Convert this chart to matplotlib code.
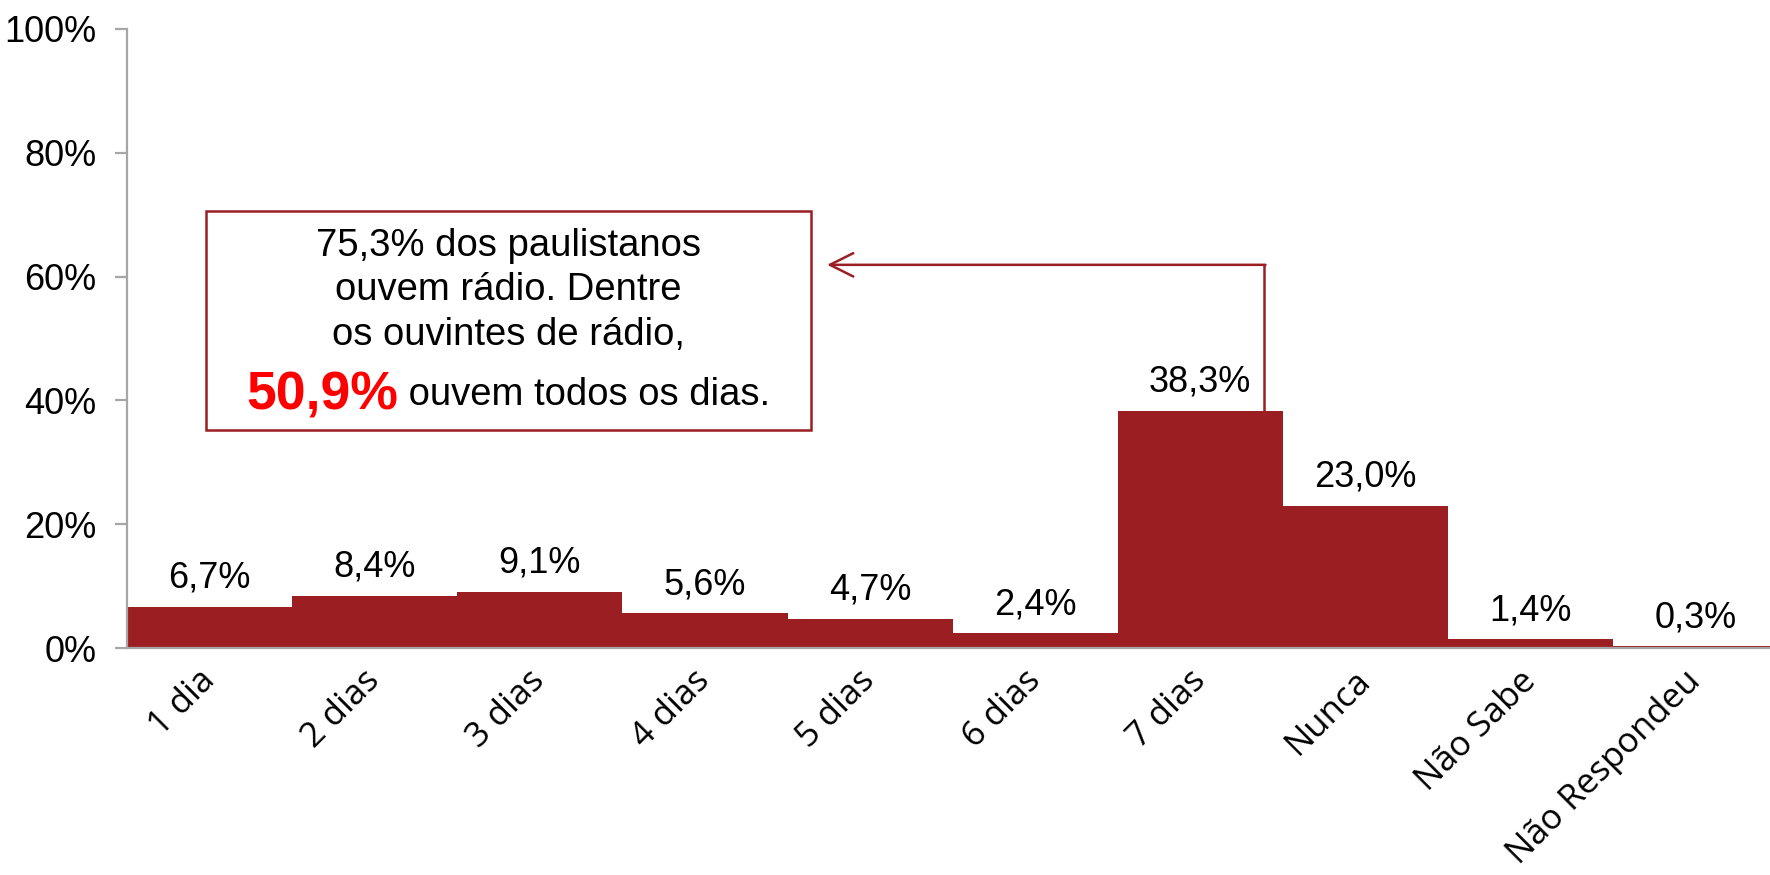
import matplotlib.pyplot as plt
from matplotlib.ticker import FuncFormatter

categorias = ['1 dia', '2 dias', '3 dias', '4 dias', '5 dias', '6 dias',
              '7 dias', 'Nunca', 'Não Sabe', 'Não Respondeu']
valores = [6.7, 8.4, 9.1, 5.6, 4.7, 2.4, 38.3, 23.0, 1.4, 0.3]
rotulos = ['6,7%', '8,4%', '9,1%', '5,6%', '4,7%', '2,4%', '38,3%', '23,0%', '1,4%', '0,3%']
yticks = [0, 20, 40, 60, 80, 100]

vermelho = '#9B1E23'
cinza = '#A6A6A6'
fonte = ['Liberation Sans', 'DejaVu Sans']

fig = plt.figure(figsize=(17.7, 8.75), dpi=100)
ax = fig.add_axes([0.0718, 0.2594, 0.9328, 0.7075])

x = list(range(len(categorias)))
ax.bar(x, valores, width=1.0, color=vermelho, edgecolor='none', zorder=2)

# rotulos de dados acima das barras
for xi, v, r in zip(x, valores, rotulos):
    ax.annotate(r, (xi, v), xytext=(0, 8), textcoords='offset points',
                ha='center', va='bottom', fontsize=26, family=fonte)

ax.set_xlim(-0.5, 9.5)
ax.set_ylim(0, 100)
ax.set_yticks(yticks)
ax.yaxis.set_major_formatter(FuncFormatter(lambda v, p: f'{v:.0f}%'))
ax.set_xticks(x)
ax.set_xticklabels(categorias, rotation=45, ha='right', va='center',
                   rotation_mode='anchor', fontsize=25, family='Open Sans')

for s in ['top', 'right']:
    ax.spines[s].set_visible(False)
for s in ['left', 'bottom']:
    ax.spines[s].set_color(cinza)
    ax.spines[s].set_linewidth(1.6)
ax.tick_params(axis='y', length=9, width=1.6, color=cinza, pad=13)
ax.tick_params(axis='x', length=0, pad=20)
for t in ax.get_yticklabels():
    t.set_fontsize(26)
    t.set_family(fonte)

# caixa de texto
bx0, bx1, by0, by1 = -0.02, 3.64, 35.2, 70.6
ax.add_patch(plt.Rectangle((bx0, by0), bx1 - bx0, by1 - by0, fill=False,
                           edgecolor=vermelho, linewidth=1.8, zorder=3))
cx = (bx0 + bx1) / 2
linhas = ['75,3% dos paulistanos', 'ouvem rádio. Dentre', 'os ouvintes de rádio,']
for yy, linha in zip([65.0, 57.8, 50.6], linhas):
    ax.text(cx, yy, linha, ha='center', va='center', fontsize=27.5, family=fonte)

t1 = ax.text(cx, 40.8, '50,9%', ha='left', va='center', color='#FF0000',
             fontsize=38.5, fontweight='bold', family=fonte)
t2 = ax.annotate(' ouvem todos os dias.', xycoords=t1, xy=(1, 0.5),
                 ha='left', va='center', fontsize=27.5, family=fonte)

# centralizar a ultima linha
fig.canvas.draw()
r = fig.canvas.get_renderer()
e1 = t1.get_window_extent(r)
e2 = t2.get_window_extent(r)
largura = e2.x1 - e1.x0
cx_pix = ax.transData.transform((cx, 0))[0]
novo_x = ax.transData.inverted().transform((cx_pix - largura / 2, 0))[0]
t1.set_x(novo_x)

# seta do 7 dias ate a caixa
ax.plot([6.387, 6.387], [valores[6], 61.9], color=vermelho, linewidth=1.8, zorder=3)
ax.annotate('', xy=(3.74, 61.9), xytext=(6.395, 61.9),
            arrowprops=dict(arrowstyle='->', color=vermelho, lw=1.8,
                            mutation_scale=42, shrinkA=0, shrinkB=0))

fig.savefig('out.png', dpi=100)
